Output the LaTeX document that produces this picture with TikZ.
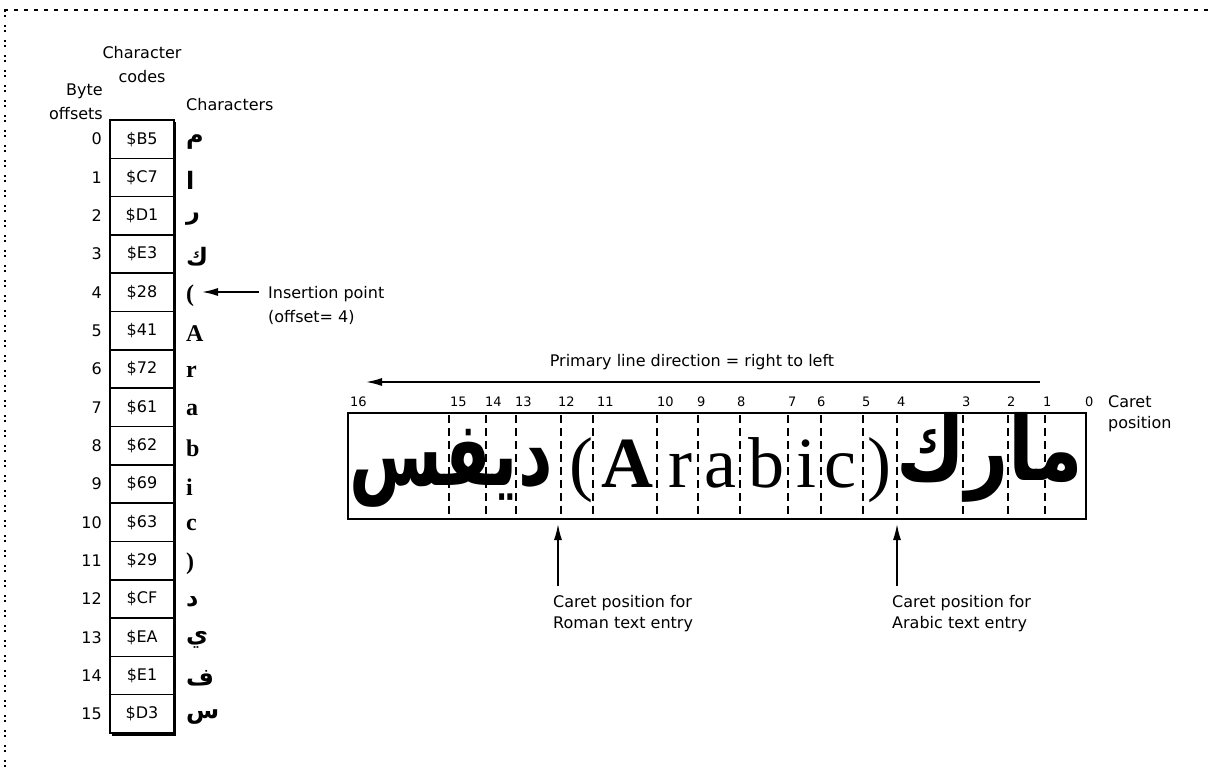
\documentclass[tikz,border=0pt]{standalone}
\usepackage{fontspec}
\setmainfont{DejaVu Sans}
\newfontfamily\seriffont{Liberation Serif}
\newfontfamily\arabicfont[Script=Arabic]{DejaVu Sans}
\TeXXeTstate=1
\usetikzlibrary{arrows.meta}
\newcommand\arch[1]{{\arabicfont\bfseries\beginR #1\endR}}
\newcommand\lbch[1]{{\seriffont\bfseries #1}}
\begin{document}
\begin{tikzpicture}[x=1pt,y=-1pt,
  lbl/.style={font=\fontsize{16}{24}\selectfont, inner sep=0pt},
  lbltwo/.style={font=\fontsize{16}{21}\selectfont, inner sep=0pt, align=left},
  cpnum/.style={font=\fontsize{13}{13}\selectfont, inner sep=0pt, anchor=west},
  cell/.style={draw, line width=1.5pt, minimum width=64pt, minimum height=38.3125pt, inner sep=0pt, font=\fontsize{16}{20}\selectfont},
  offnum/.style={font=\fontsize{16}{20}\selectfont, inner sep=0pt, anchor=east},
  glyph/.style={font=\fontsize{24}{24}\selectfont, inner sep=0pt, anchor=west},
  big/.style={font=\seriffont\fontsize{72}{72}\selectfont, inner sep=0pt, anchor=base},
  bigar/.style={font=\arabicfont\bfseries\fontsize{80}{80}\selectfont, inner sep=0pt, anchor=base},
  sep/.style={line width=1.2pt, dash pattern=on 8pt off 5pt},
  arr/.style={line width=1.5pt, -{Latex[length=16pt,width=8pt]}}
]
\useasboundingbox (0,0) rectangle (1208,767);
% frame
\draw[line width=2pt, dash pattern=on 4pt off 6pt] (4,10) -- (1208,10);
\draw[line width=2pt, dash pattern=on 2pt off 3pt on 2pt off 8pt] (5,10) -- (5,767);

% headers
\node[lbl, align=center] (hdrcodes) at (142,65) {Character\\codes};
\node[lbl, align=right, anchor=east] (hdroff) at (103,102) {Byte\\offsets};
\node[lbl, anchor=west] (hdrch) at (186,105) {Characters};

% table shadow
\fill (112,731) rectangle (176,736);
\fill (173,122) rectangle (176,736);

% table rows
\foreach \i/\c/\g in {0/\$B5/\arch{م}, 1/\$C7/\arch{ا}, 2/\$D1/\arch{ر}, 3/\$E3/\arch{ك},
  4/\$28/\lbch{(}, 5/\$41/\lbch{A}, 6/\$72/\lbch{r}, 7/\$61/\lbch{a}, 8/\$62/\lbch{b},
  9/\$69/\lbch{i}, 10/\$63/\lbch{c}, 11/\$29/\lbch{)}, 12/\$CF/\arch{د}, 13/\$EA/\arch{ي},
  14/\$E1/\arch{ف}, 15/\$D3/\arch{س}}{
  \pgfmathsetmacro\yy{120+38.3125*(\i+0.5)}
  \node[cell, fill=white] (code\i) at (142,\yy) {\c};
  \node[offnum] (off\i) at (102,\yy) {\i};
  \node[glyph] (ch\i) at (186,\yy+3) {\g};
}

% insertion point
\node[lbl, align=left, anchor=west] (ins) at (268,305) {Insertion point\\(offset= 4)};
\coordinate (insstart) at (259,292);
\coordinate (instip) at (202,292);
\draw[arr] (insstart) -- (instip);

% primary direction
\node[lbl] (prim) at (692,362) {Primary line direction = right to left};
\coordinate (primstart) at (1040,382);
\coordinate (primtip) at (366,382);
\draw[arr] (primstart) -- (primtip);

% caret numbers
\foreach \n/\x in {16/350,15/450,14/485,13/515,12/558,11/597,10/657,9/697,8/737,7/788,6/817,5/862,4/897,3/962,2/1007,1/1043,0/1085}{
  \node[cpnum] (cp\n) at (\x,402) {\n};
}
\node[lbltwo, anchor=west] (cplbl) at (1108,414) {Caret\\position};

% separators
\foreach \x in {449,486,516,561,593,657,698,740,788,821,863,897,963,1008,1045}{
  \draw[sep] (\x,415) -- (\x,519);
}
% text box
\node[draw, line width=2pt, minimum width=738pt, minimum height=106pt, inner sep=0pt] (box) at (717,466) {};

% content
\node[bigar] (wl) at (451,485) {\scalebox{0.84}[1.12]{\beginR ديفس\endR}};
\node[big] (lp) at (581,487) {(};
\node[big] (cA) at (627,487) {\bfseries A};
\node[big] (cr) at (680,487) {r};
\node[big] (ca) at (720,487) {a};
\node[big] (cb) at (766,487) {b};
\node[big] (ci) at (806,487) {i};
\node[big] (cc) at (840,487) {c};
\node[big] (rp) at (879,487) {)};
\node[bigar] (wr) at (990,480) {\scalebox{0.94}[1.12]{\beginR مارك\endR}};

% caret arrows
\node[lbltwo, anchor=west] (roman) at (553,614) {Caret position for\\Roman text entry};
\node[lbltwo, anchor=west] (arabic) at (892,614) {Caret position for\\Arabic text entry};
\coordinate (romanstart) at (558,586);
\coordinate (romantip) at (558,524);
\coordinate (arabicstart) at (897,586);
\coordinate (arabictip) at (897,524);
\draw[arr] (romanstart) -- (romantip);
\draw[arr] (arabicstart) -- (arabictip);
\end{tikzpicture}
\end{document}
